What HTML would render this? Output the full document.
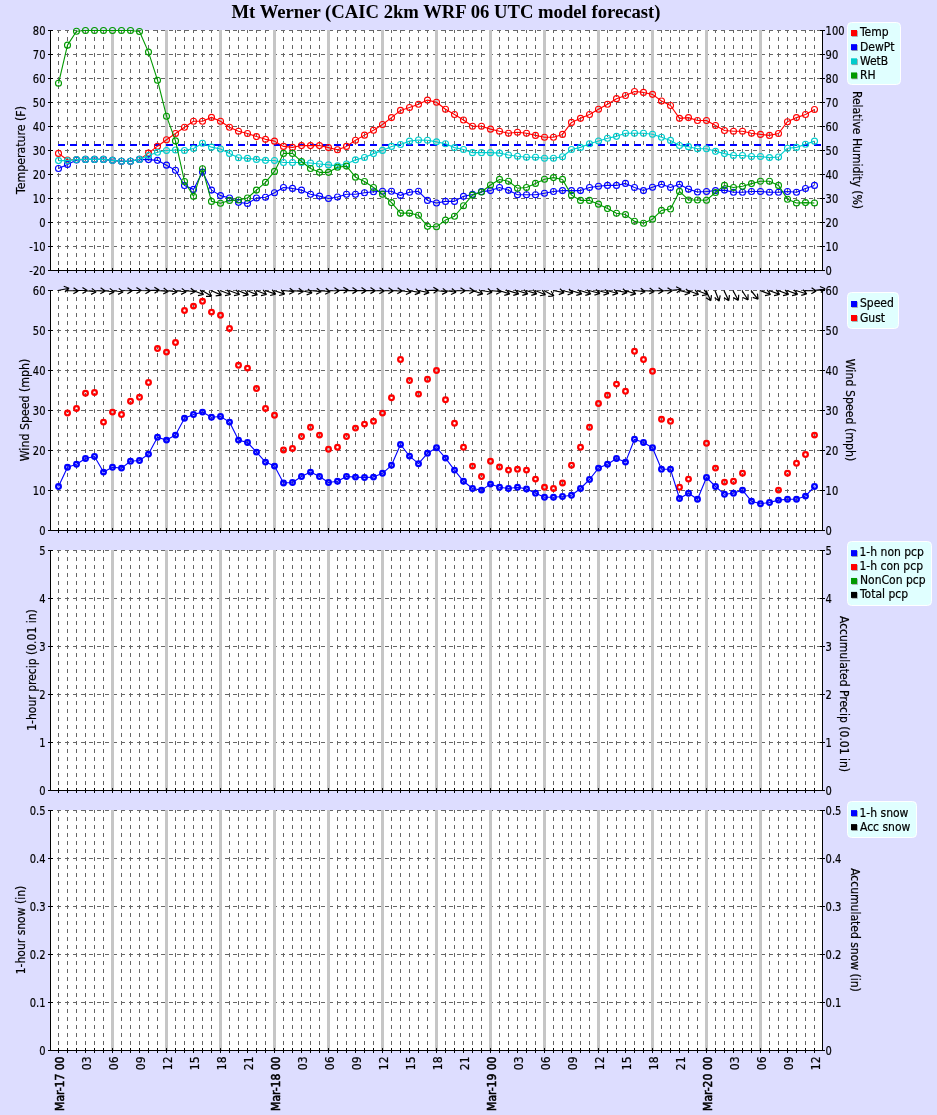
<!DOCTYPE html>
<html lang="en"><head><meta charset="utf-8"><title>Mt Werner (CAIC 2km WRF 06 UTC model forecast)</title>
<style>
html,body{margin:0;padding:0;background:#ddddff;}
body{width:937px;height:1115px;overflow:hidden;}
svg{display:block;}
text{font-family:"DejaVu Sans Condensed","DejaVu Sans","Liberation Sans",sans-serif;font-size:12px;fill:#000;stroke:#000;stroke-width:0.2px;filter:grayscale(1);}
.ttl{font-family:"Liberation Serif","DejaVu Serif",serif;font-weight:bold;font-size:18.67px;stroke:none;}
.b{stroke:#000;stroke-width:0.55px;}
.at{font-size:12.25px;}
.g{stroke:#666666;stroke-width:1;stroke-dasharray:4 4;fill:none;}
.ax{stroke:#000;stroke-width:1;fill:none;}
.bar{fill:#c6c6c6;}
.mk{fill:none;stroke-width:1.1;}
.ln{fill:none;stroke-width:1.1;stroke-linejoin:round;}
.wm{fill:none;stroke-width:2.25;}
.ar{fill:none;stroke:#000;stroke-width:1.2;stroke-linecap:butt;}
</style></head><body>
<svg width="937" height="1115" viewBox="0 0 937 1115">
<rect x="0" y="0" width="937" height="1115" fill="#ddddff"/>
<text class="ttl" x="446" y="18" text-anchor="middle">Mt Werner (CAIC 2km WRF 06 UTC model forecast)</text>
<g>
<rect x="50" y="30" width="773" height="240" fill="#fff"/>
<path class="g" d="M58.5 273 V30 M67.5 273 V30 M76.5 273 V30 M85.5 273 V30 M94.5 273 V30 M103.5 273 V30 M121.5 273 V30 M130.5 273 V30 M139.5 273 V30 M148.5 273 V30 M157.5 273 V30 M175.5 273 V30 M184.5 273 V30 M193.5 273 V30 M202.5 273 V30 M211.5 273 V30 M229.5 273 V30 M238.5 273 V30 M247.5 273 V30 M256.5 273 V30 M265.5 273 V30 M283.5 273 V30 M292.5 273 V30 M301.5 273 V30 M310.5 273 V30 M319.5 273 V30 M337.5 273 V30 M346.5 273 V30 M355.5 273 V30 M364.5 273 V30 M373.5 273 V30 M391.5 273 V30 M400.5 273 V30 M409.5 273 V30 M418.5 273 V30 M427.5 273 V30 M445.5 273 V30 M454.5 273 V30 M463.5 273 V30 M472.5 273 V30 M481.5 273 V30 M499.5 273 V30 M508.5 273 V30 M517.5 273 V30 M526.5 273 V30 M535.5 273 V30 M553.5 273 V30 M562.5 273 V30 M571.5 273 V30 M580.5 273 V30 M589.5 273 V30 M607.5 273 V30 M616.5 273 V30 M625.5 273 V30 M634.5 273 V30 M643.5 273 V30 M661.5 273 V30 M670.5 273 V30 M679.5 273 V30 M688.5 273 V30 M697.5 273 V30 M715.5 273 V30 M724.5 273 V30 M733.5 273 V30 M742.5 273 V30 M751.5 273 V30 M769.5 273 V30 M778.5 273 V30 M787.5 273 V30 M796.5 273 V30 M805.5 273 V30 M814.5 273 V30"/>
<path class="g" d="M49 30.5 H822 M49 54.5 H822 M49 78.5 H822 M49 102.5 H822 M49 126.5 H822 M49 150.5 H822 M49 174.5 H822 M49 198.5 H822 M49 222.5 H822 M49 246.5 H822"/>
<rect x="40" y="29" width="10" height="242" fill="#ddddff"/>
<rect x="50" y="271" width="780" height="4" fill="#ddddff"/>
<rect class="bar" x="111" y="30" width="3" height="240"/>
<rect class="bar" x="165" y="30" width="3" height="240"/>
<rect class="bar" x="219" y="30" width="3" height="240"/>
<rect class="bar" x="273" y="30" width="3" height="240"/>
<rect class="bar" x="327" y="30" width="3" height="240"/>
<rect class="bar" x="381" y="30" width="3" height="240"/>
<rect class="bar" x="435" y="30" width="3" height="240"/>
<rect class="bar" x="489" y="30" width="3" height="240"/>
<rect class="bar" x="543" y="30" width="3" height="240"/>
<rect class="bar" x="597" y="30" width="3" height="240"/>
<rect class="bar" x="651" y="30" width="3" height="240"/>
<rect class="bar" x="705" y="30" width="3" height="240"/>
<rect class="bar" x="759" y="30" width="3" height="240"/>
</g>
<g>
<rect x="50" y="290" width="773" height="240" fill="#fff"/>
<path class="g" d="M58.5 533 V290 M67.5 533 V290 M76.5 533 V290 M85.5 533 V290 M94.5 533 V290 M103.5 533 V290 M121.5 533 V290 M130.5 533 V290 M139.5 533 V290 M148.5 533 V290 M157.5 533 V290 M175.5 533 V290 M184.5 533 V290 M193.5 533 V290 M202.5 533 V290 M211.5 533 V290 M229.5 533 V290 M238.5 533 V290 M247.5 533 V290 M256.5 533 V290 M265.5 533 V290 M283.5 533 V290 M292.5 533 V290 M301.5 533 V290 M310.5 533 V290 M319.5 533 V290 M337.5 533 V290 M346.5 533 V290 M355.5 533 V290 M364.5 533 V290 M373.5 533 V290 M391.5 533 V290 M400.5 533 V290 M409.5 533 V290 M418.5 533 V290 M427.5 533 V290 M445.5 533 V290 M454.5 533 V290 M463.5 533 V290 M472.5 533 V290 M481.5 533 V290 M499.5 533 V290 M508.5 533 V290 M517.5 533 V290 M526.5 533 V290 M535.5 533 V290 M553.5 533 V290 M562.5 533 V290 M571.5 533 V290 M580.5 533 V290 M589.5 533 V290 M607.5 533 V290 M616.5 533 V290 M625.5 533 V290 M634.5 533 V290 M643.5 533 V290 M661.5 533 V290 M670.5 533 V290 M679.5 533 V290 M688.5 533 V290 M697.5 533 V290 M715.5 533 V290 M724.5 533 V290 M733.5 533 V290 M742.5 533 V290 M751.5 533 V290 M769.5 533 V290 M778.5 533 V290 M787.5 533 V290 M796.5 533 V290 M805.5 533 V290 M814.5 533 V290"/>
<path class="g" d="M49 290.5 H822 M49 330.5 H822 M49 370.5 H822 M49 410.5 H822 M49 450.5 H822 M49 490.5 H822"/>
<rect x="40" y="289" width="10" height="242" fill="#ddddff"/>
<rect x="50" y="531" width="780" height="4" fill="#ddddff"/>
<rect class="bar" x="111" y="290" width="3" height="240"/>
<rect class="bar" x="165" y="290" width="3" height="240"/>
<rect class="bar" x="219" y="290" width="3" height="240"/>
<rect class="bar" x="273" y="290" width="3" height="240"/>
<rect class="bar" x="327" y="290" width="3" height="240"/>
<rect class="bar" x="381" y="290" width="3" height="240"/>
<rect class="bar" x="435" y="290" width="3" height="240"/>
<rect class="bar" x="489" y="290" width="3" height="240"/>
<rect class="bar" x="543" y="290" width="3" height="240"/>
<rect class="bar" x="597" y="290" width="3" height="240"/>
<rect class="bar" x="651" y="290" width="3" height="240"/>
<rect class="bar" x="705" y="290" width="3" height="240"/>
<rect class="bar" x="759" y="290" width="3" height="240"/>
</g>
<g>
<rect x="50" y="550" width="773" height="240" fill="#fff"/>
<path class="g" d="M58.5 793 V550 M67.5 793 V550 M76.5 793 V550 M85.5 793 V550 M94.5 793 V550 M103.5 793 V550 M121.5 793 V550 M130.5 793 V550 M139.5 793 V550 M148.5 793 V550 M157.5 793 V550 M175.5 793 V550 M184.5 793 V550 M193.5 793 V550 M202.5 793 V550 M211.5 793 V550 M229.5 793 V550 M238.5 793 V550 M247.5 793 V550 M256.5 793 V550 M265.5 793 V550 M283.5 793 V550 M292.5 793 V550 M301.5 793 V550 M310.5 793 V550 M319.5 793 V550 M337.5 793 V550 M346.5 793 V550 M355.5 793 V550 M364.5 793 V550 M373.5 793 V550 M391.5 793 V550 M400.5 793 V550 M409.5 793 V550 M418.5 793 V550 M427.5 793 V550 M445.5 793 V550 M454.5 793 V550 M463.5 793 V550 M472.5 793 V550 M481.5 793 V550 M499.5 793 V550 M508.5 793 V550 M517.5 793 V550 M526.5 793 V550 M535.5 793 V550 M553.5 793 V550 M562.5 793 V550 M571.5 793 V550 M580.5 793 V550 M589.5 793 V550 M607.5 793 V550 M616.5 793 V550 M625.5 793 V550 M634.5 793 V550 M643.5 793 V550 M661.5 793 V550 M670.5 793 V550 M679.5 793 V550 M688.5 793 V550 M697.5 793 V550 M715.5 793 V550 M724.5 793 V550 M733.5 793 V550 M742.5 793 V550 M751.5 793 V550 M769.5 793 V550 M778.5 793 V550 M787.5 793 V550 M796.5 793 V550 M805.5 793 V550 M814.5 793 V550"/>
<path class="g" d="M49 550.5 H822 M49 598.5 H822 M49 646.5 H822 M49 694.5 H822 M49 742.5 H822"/>
<rect x="40" y="549" width="10" height="242" fill="#ddddff"/>
<rect x="50" y="791" width="780" height="4" fill="#ddddff"/>
<rect class="bar" x="111" y="550" width="3" height="240"/>
<rect class="bar" x="165" y="550" width="3" height="240"/>
<rect class="bar" x="219" y="550" width="3" height="240"/>
<rect class="bar" x="273" y="550" width="3" height="240"/>
<rect class="bar" x="327" y="550" width="3" height="240"/>
<rect class="bar" x="381" y="550" width="3" height="240"/>
<rect class="bar" x="435" y="550" width="3" height="240"/>
<rect class="bar" x="489" y="550" width="3" height="240"/>
<rect class="bar" x="543" y="550" width="3" height="240"/>
<rect class="bar" x="597" y="550" width="3" height="240"/>
<rect class="bar" x="651" y="550" width="3" height="240"/>
<rect class="bar" x="705" y="550" width="3" height="240"/>
<rect class="bar" x="759" y="550" width="3" height="240"/>
</g>
<g>
<rect x="50" y="810" width="773" height="240" fill="#fff"/>
<path class="g" d="M58.5 1053 V810 M67.5 1053 V810 M76.5 1053 V810 M85.5 1053 V810 M94.5 1053 V810 M103.5 1053 V810 M121.5 1053 V810 M130.5 1053 V810 M139.5 1053 V810 M148.5 1053 V810 M157.5 1053 V810 M175.5 1053 V810 M184.5 1053 V810 M193.5 1053 V810 M202.5 1053 V810 M211.5 1053 V810 M229.5 1053 V810 M238.5 1053 V810 M247.5 1053 V810 M256.5 1053 V810 M265.5 1053 V810 M283.5 1053 V810 M292.5 1053 V810 M301.5 1053 V810 M310.5 1053 V810 M319.5 1053 V810 M337.5 1053 V810 M346.5 1053 V810 M355.5 1053 V810 M364.5 1053 V810 M373.5 1053 V810 M391.5 1053 V810 M400.5 1053 V810 M409.5 1053 V810 M418.5 1053 V810 M427.5 1053 V810 M445.5 1053 V810 M454.5 1053 V810 M463.5 1053 V810 M472.5 1053 V810 M481.5 1053 V810 M499.5 1053 V810 M508.5 1053 V810 M517.5 1053 V810 M526.5 1053 V810 M535.5 1053 V810 M553.5 1053 V810 M562.5 1053 V810 M571.5 1053 V810 M580.5 1053 V810 M589.5 1053 V810 M607.5 1053 V810 M616.5 1053 V810 M625.5 1053 V810 M634.5 1053 V810 M643.5 1053 V810 M661.5 1053 V810 M670.5 1053 V810 M679.5 1053 V810 M688.5 1053 V810 M697.5 1053 V810 M715.5 1053 V810 M724.5 1053 V810 M733.5 1053 V810 M742.5 1053 V810 M751.5 1053 V810 M769.5 1053 V810 M778.5 1053 V810 M787.5 1053 V810 M796.5 1053 V810 M805.5 1053 V810 M814.5 1053 V810"/>
<path class="g" d="M49 810.5 H822 M49 858.5 H822 M49 906.5 H822 M49 954.5 H822 M49 1002.5 H822"/>
<rect x="40" y="809" width="10" height="242" fill="#ddddff"/>
<rect x="50" y="1051" width="780" height="4" fill="#ddddff"/>
<rect class="bar" x="111" y="810" width="3" height="240"/>
<rect class="bar" x="165" y="810" width="3" height="240"/>
<rect class="bar" x="219" y="810" width="3" height="240"/>
<rect class="bar" x="273" y="810" width="3" height="240"/>
<rect class="bar" x="327" y="810" width="3" height="240"/>
<rect class="bar" x="381" y="810" width="3" height="240"/>
<rect class="bar" x="435" y="810" width="3" height="240"/>
<rect class="bar" x="489" y="810" width="3" height="240"/>
<rect class="bar" x="543" y="810" width="3" height="240"/>
<rect class="bar" x="597" y="810" width="3" height="240"/>
<rect class="bar" x="651" y="810" width="3" height="240"/>
<rect class="bar" x="705" y="810" width="3" height="240"/>
<rect class="bar" x="759" y="810" width="3" height="240"/>
</g>
<path d="M58 145 H822" stroke="#0000ff" stroke-width="2" stroke-dasharray="7 5" fill="none"/>
<g stroke="#ff0000">
<polyline class="ln" points="58.5,153.38 67.5,159.98 76.5,159.62 85.5,159.38 94.5,159.38 103.5,159.38 112.5,160.34 121.5,161.3 130.5,161.3 139.5,159.38 148.5,153.14 157.5,146.18 166.5,139.7 175.5,133.46 184.5,127.22 193.5,121.22 202.5,121.22 211.5,117.38 220.5,121.22 229.5,127.22 238.5,131.3 247.5,133.46 256.5,136.58 265.5,139.34 274.5,141.14 283.5,146.42 292.5,147.38 301.5,145.58 310.5,145.58 319.5,145.58 328.5,147.62 337.5,149.78 346.5,146.42 355.5,140.18 364.5,135.14 373.5,130.22 382.5,124.46 391.5,117.62 400.5,110.42 409.5,107.54 418.5,104.18 427.5,100.1 436.5,102.26 445.5,109.22 454.5,114.5 463.5,120.02 472.5,126.26 481.5,126.26 490.5,129.14 499.5,131.3 508.5,133.22 517.5,132.26 526.5,133.22 535.5,135.38 544.5,137.3 553.5,137.3 562.5,134.42 571.5,122.42 580.5,118.34 589.5,114.5 598.5,109.22 607.5,104.18 616.5,98.66 625.5,95.54 634.5,91.46 643.5,92.42 652.5,94.34 661.5,101.06 670.5,105.5 679.5,118.34 688.5,117.62 697.5,120.5 706.5,120.5 715.5,125.54 724.5,130.46 733.5,131.3 742.5,131.3 751.5,133.22 760.5,134.42 769.5,135.38 778.5,133.46 787.5,121.7 796.5,117.62 805.5,114.5 814.5,109.46"/>
<circle class="mk" cx="58.5" cy="153.38" r="3"/>
<circle class="mk" cx="67.5" cy="159.98" r="3"/>
<circle class="mk" cx="76.5" cy="159.62" r="3"/>
<circle class="mk" cx="85.5" cy="159.38" r="3"/>
<circle class="mk" cx="94.5" cy="159.38" r="3"/>
<circle class="mk" cx="103.5" cy="159.38" r="3"/>
<circle class="mk" cx="112.5" cy="160.34" r="3"/>
<circle class="mk" cx="121.5" cy="161.3" r="3"/>
<circle class="mk" cx="130.5" cy="161.3" r="3"/>
<circle class="mk" cx="139.5" cy="159.38" r="3"/>
<circle class="mk" cx="148.5" cy="153.14" r="3"/>
<circle class="mk" cx="157.5" cy="146.18" r="3"/>
<circle class="mk" cx="166.5" cy="139.7" r="3"/>
<circle class="mk" cx="175.5" cy="133.46" r="3"/>
<circle class="mk" cx="184.5" cy="127.22" r="3"/>
<circle class="mk" cx="193.5" cy="121.22" r="3"/>
<circle class="mk" cx="202.5" cy="121.22" r="3"/>
<circle class="mk" cx="211.5" cy="117.38" r="3"/>
<circle class="mk" cx="220.5" cy="121.22" r="3"/>
<circle class="mk" cx="229.5" cy="127.22" r="3"/>
<circle class="mk" cx="238.5" cy="131.3" r="3"/>
<circle class="mk" cx="247.5" cy="133.46" r="3"/>
<circle class="mk" cx="256.5" cy="136.58" r="3"/>
<circle class="mk" cx="265.5" cy="139.34" r="3"/>
<circle class="mk" cx="274.5" cy="141.14" r="3"/>
<circle class="mk" cx="283.5" cy="146.42" r="3"/>
<circle class="mk" cx="292.5" cy="147.38" r="3"/>
<circle class="mk" cx="301.5" cy="145.58" r="3"/>
<circle class="mk" cx="310.5" cy="145.58" r="3"/>
<circle class="mk" cx="319.5" cy="145.58" r="3"/>
<circle class="mk" cx="328.5" cy="147.62" r="3"/>
<circle class="mk" cx="337.5" cy="149.78" r="3"/>
<circle class="mk" cx="346.5" cy="146.42" r="3"/>
<circle class="mk" cx="355.5" cy="140.18" r="3"/>
<circle class="mk" cx="364.5" cy="135.14" r="3"/>
<circle class="mk" cx="373.5" cy="130.22" r="3"/>
<circle class="mk" cx="382.5" cy="124.46" r="3"/>
<circle class="mk" cx="391.5" cy="117.62" r="3"/>
<circle class="mk" cx="400.5" cy="110.42" r="3"/>
<circle class="mk" cx="409.5" cy="107.54" r="3"/>
<circle class="mk" cx="418.5" cy="104.18" r="3"/>
<circle class="mk" cx="427.5" cy="100.1" r="3"/>
<circle class="mk" cx="436.5" cy="102.26" r="3"/>
<circle class="mk" cx="445.5" cy="109.22" r="3"/>
<circle class="mk" cx="454.5" cy="114.5" r="3"/>
<circle class="mk" cx="463.5" cy="120.02" r="3"/>
<circle class="mk" cx="472.5" cy="126.26" r="3"/>
<circle class="mk" cx="481.5" cy="126.26" r="3"/>
<circle class="mk" cx="490.5" cy="129.14" r="3"/>
<circle class="mk" cx="499.5" cy="131.3" r="3"/>
<circle class="mk" cx="508.5" cy="133.22" r="3"/>
<circle class="mk" cx="517.5" cy="132.26" r="3"/>
<circle class="mk" cx="526.5" cy="133.22" r="3"/>
<circle class="mk" cx="535.5" cy="135.38" r="3"/>
<circle class="mk" cx="544.5" cy="137.3" r="3"/>
<circle class="mk" cx="553.5" cy="137.3" r="3"/>
<circle class="mk" cx="562.5" cy="134.42" r="3"/>
<circle class="mk" cx="571.5" cy="122.42" r="3"/>
<circle class="mk" cx="580.5" cy="118.34" r="3"/>
<circle class="mk" cx="589.5" cy="114.5" r="3"/>
<circle class="mk" cx="598.5" cy="109.22" r="3"/>
<circle class="mk" cx="607.5" cy="104.18" r="3"/>
<circle class="mk" cx="616.5" cy="98.66" r="3"/>
<circle class="mk" cx="625.5" cy="95.54" r="3"/>
<circle class="mk" cx="634.5" cy="91.46" r="3"/>
<circle class="mk" cx="643.5" cy="92.42" r="3"/>
<circle class="mk" cx="652.5" cy="94.34" r="3"/>
<circle class="mk" cx="661.5" cy="101.06" r="3"/>
<circle class="mk" cx="670.5" cy="105.5" r="3"/>
<circle class="mk" cx="679.5" cy="118.34" r="3"/>
<circle class="mk" cx="688.5" cy="117.62" r="3"/>
<circle class="mk" cx="697.5" cy="120.5" r="3"/>
<circle class="mk" cx="706.5" cy="120.5" r="3"/>
<circle class="mk" cx="715.5" cy="125.54" r="3"/>
<circle class="mk" cx="724.5" cy="130.46" r="3"/>
<circle class="mk" cx="733.5" cy="131.3" r="3"/>
<circle class="mk" cx="742.5" cy="131.3" r="3"/>
<circle class="mk" cx="751.5" cy="133.22" r="3"/>
<circle class="mk" cx="760.5" cy="134.42" r="3"/>
<circle class="mk" cx="769.5" cy="135.38" r="3"/>
<circle class="mk" cx="778.5" cy="133.46" r="3"/>
<circle class="mk" cx="787.5" cy="121.7" r="3"/>
<circle class="mk" cx="796.5" cy="117.62" r="3"/>
<circle class="mk" cx="805.5" cy="114.5" r="3"/>
<circle class="mk" cx="814.5" cy="109.46" r="3"/>
</g>
<g stroke="#0000ff">
<polyline class="ln" points="58.5,168.5 67.5,164.42 76.5,159.98 85.5,159.38 94.5,159.38 103.5,159.38 112.5,160.34 121.5,161.3 130.5,161.3 139.5,159.38 148.5,159.62 157.5,160.34 166.5,165.14 175.5,170.18 184.5,185.54 193.5,189.38 202.5,172.1 211.5,190.1 220.5,195.62 229.5,198.02 238.5,202.34 247.5,203.54 256.5,198.02 265.5,197.3 274.5,192.74 283.5,187.46 292.5,188.42 301.5,190.1 310.5,194.18 319.5,196.1 328.5,198.5 337.5,197.06 346.5,194.18 355.5,194.18 364.5,192.74 373.5,191.78 382.5,191.18 391.5,191.3 400.5,195.38 409.5,192.26 418.5,191.3 427.5,200.42 436.5,203.06 445.5,201.38 454.5,201.38 463.5,196.34 472.5,194.42 481.5,191.66 490.5,190.58 499.5,187.46 508.5,190.34 517.5,194.78 526.5,194.78 535.5,194.78 544.5,193.22 553.5,191.54 562.5,190.58 571.5,190.58 580.5,190.58 589.5,187.46 598.5,186.26 607.5,185.42 616.5,185.42 625.5,183.38 634.5,187.46 643.5,190.58 652.5,187.22 661.5,184.34 670.5,187.46 679.5,184.34 688.5,189.14 697.5,192.02 706.5,191.54 715.5,190.58 724.5,190.1 733.5,192.26 742.5,192.26 751.5,191.54 760.5,191.54 769.5,192.26 778.5,192.26 787.5,191.54 796.5,192.26 805.5,188.54 814.5,185.42"/>
<circle class="mk" cx="58.5" cy="168.5" r="3"/>
<circle class="mk" cx="67.5" cy="164.42" r="3"/>
<circle class="mk" cx="76.5" cy="159.98" r="3"/>
<circle class="mk" cx="85.5" cy="159.38" r="3"/>
<circle class="mk" cx="94.5" cy="159.38" r="3"/>
<circle class="mk" cx="103.5" cy="159.38" r="3"/>
<circle class="mk" cx="112.5" cy="160.34" r="3"/>
<circle class="mk" cx="121.5" cy="161.3" r="3"/>
<circle class="mk" cx="130.5" cy="161.3" r="3"/>
<circle class="mk" cx="139.5" cy="159.38" r="3"/>
<circle class="mk" cx="148.5" cy="159.62" r="3"/>
<circle class="mk" cx="157.5" cy="160.34" r="3"/>
<circle class="mk" cx="166.5" cy="165.14" r="3"/>
<circle class="mk" cx="175.5" cy="170.18" r="3"/>
<circle class="mk" cx="184.5" cy="185.54" r="3"/>
<circle class="mk" cx="193.5" cy="189.38" r="3"/>
<circle class="mk" cx="202.5" cy="172.1" r="3"/>
<circle class="mk" cx="211.5" cy="190.1" r="3"/>
<circle class="mk" cx="220.5" cy="195.62" r="3"/>
<circle class="mk" cx="229.5" cy="198.02" r="3"/>
<circle class="mk" cx="238.5" cy="202.34" r="3"/>
<circle class="mk" cx="247.5" cy="203.54" r="3"/>
<circle class="mk" cx="256.5" cy="198.02" r="3"/>
<circle class="mk" cx="265.5" cy="197.3" r="3"/>
<circle class="mk" cx="274.5" cy="192.74" r="3"/>
<circle class="mk" cx="283.5" cy="187.46" r="3"/>
<circle class="mk" cx="292.5" cy="188.42" r="3"/>
<circle class="mk" cx="301.5" cy="190.1" r="3"/>
<circle class="mk" cx="310.5" cy="194.18" r="3"/>
<circle class="mk" cx="319.5" cy="196.1" r="3"/>
<circle class="mk" cx="328.5" cy="198.5" r="3"/>
<circle class="mk" cx="337.5" cy="197.06" r="3"/>
<circle class="mk" cx="346.5" cy="194.18" r="3"/>
<circle class="mk" cx="355.5" cy="194.18" r="3"/>
<circle class="mk" cx="364.5" cy="192.74" r="3"/>
<circle class="mk" cx="373.5" cy="191.78" r="3"/>
<circle class="mk" cx="382.5" cy="191.18" r="3"/>
<circle class="mk" cx="391.5" cy="191.3" r="3"/>
<circle class="mk" cx="400.5" cy="195.38" r="3"/>
<circle class="mk" cx="409.5" cy="192.26" r="3"/>
<circle class="mk" cx="418.5" cy="191.3" r="3"/>
<circle class="mk" cx="427.5" cy="200.42" r="3"/>
<circle class="mk" cx="436.5" cy="203.06" r="3"/>
<circle class="mk" cx="445.5" cy="201.38" r="3"/>
<circle class="mk" cx="454.5" cy="201.38" r="3"/>
<circle class="mk" cx="463.5" cy="196.34" r="3"/>
<circle class="mk" cx="472.5" cy="194.42" r="3"/>
<circle class="mk" cx="481.5" cy="191.66" r="3"/>
<circle class="mk" cx="490.5" cy="190.58" r="3"/>
<circle class="mk" cx="499.5" cy="187.46" r="3"/>
<circle class="mk" cx="508.5" cy="190.34" r="3"/>
<circle class="mk" cx="517.5" cy="194.78" r="3"/>
<circle class="mk" cx="526.5" cy="194.78" r="3"/>
<circle class="mk" cx="535.5" cy="194.78" r="3"/>
<circle class="mk" cx="544.5" cy="193.22" r="3"/>
<circle class="mk" cx="553.5" cy="191.54" r="3"/>
<circle class="mk" cx="562.5" cy="190.58" r="3"/>
<circle class="mk" cx="571.5" cy="190.58" r="3"/>
<circle class="mk" cx="580.5" cy="190.58" r="3"/>
<circle class="mk" cx="589.5" cy="187.46" r="3"/>
<circle class="mk" cx="598.5" cy="186.26" r="3"/>
<circle class="mk" cx="607.5" cy="185.42" r="3"/>
<circle class="mk" cx="616.5" cy="185.42" r="3"/>
<circle class="mk" cx="625.5" cy="183.38" r="3"/>
<circle class="mk" cx="634.5" cy="187.46" r="3"/>
<circle class="mk" cx="643.5" cy="190.58" r="3"/>
<circle class="mk" cx="652.5" cy="187.22" r="3"/>
<circle class="mk" cx="661.5" cy="184.34" r="3"/>
<circle class="mk" cx="670.5" cy="187.46" r="3"/>
<circle class="mk" cx="679.5" cy="184.34" r="3"/>
<circle class="mk" cx="688.5" cy="189.14" r="3"/>
<circle class="mk" cx="697.5" cy="192.02" r="3"/>
<circle class="mk" cx="706.5" cy="191.54" r="3"/>
<circle class="mk" cx="715.5" cy="190.58" r="3"/>
<circle class="mk" cx="724.5" cy="190.1" r="3"/>
<circle class="mk" cx="733.5" cy="192.26" r="3"/>
<circle class="mk" cx="742.5" cy="192.26" r="3"/>
<circle class="mk" cx="751.5" cy="191.54" r="3"/>
<circle class="mk" cx="760.5" cy="191.54" r="3"/>
<circle class="mk" cx="769.5" cy="192.26" r="3"/>
<circle class="mk" cx="778.5" cy="192.26" r="3"/>
<circle class="mk" cx="787.5" cy="191.54" r="3"/>
<circle class="mk" cx="796.5" cy="192.26" r="3"/>
<circle class="mk" cx="805.5" cy="188.54" r="3"/>
<circle class="mk" cx="814.5" cy="185.42" r="3"/>
</g>
<g stroke="#00cccc">
<polyline class="ln" points="58.5,160.58 67.5,160.58 76.5,159.62 85.5,159.38 94.5,159.38 103.5,159.38 112.5,160.34 121.5,161.3 130.5,161.3 139.5,159.38 148.5,155.54 157.5,152.18 166.5,150.5 175.5,150.02 184.5,150.5 193.5,148.46 202.5,143.3 211.5,147.14 220.5,149.06 229.5,153.38 238.5,157.7 247.5,158.42 256.5,159.38 265.5,160.34 274.5,160.46 283.5,162.5 292.5,162.5 301.5,162.5 310.5,162.98 319.5,163.94 328.5,164.9 337.5,165.86 346.5,163.94 355.5,159.86 364.5,157.46 373.5,153.62 382.5,150.38 391.5,146.42 400.5,144.5 409.5,141.14 418.5,139.94 427.5,140.18 436.5,141.86 445.5,143.78 454.5,147.62 463.5,149.54 472.5,152.66 481.5,152.66 490.5,152.66 499.5,153.14 508.5,155.06 517.5,156.26 526.5,157.22 535.5,157.22 544.5,158.18 553.5,158.18 562.5,156.74 571.5,149.54 580.5,147.38 589.5,143.78 598.5,141.02 607.5,138.26 616.5,136.34 625.5,133.22 634.5,133.22 643.5,133.22 652.5,134.18 661.5,137.3 670.5,140.42 679.5,145.46 688.5,146.66 697.5,148.82 706.5,148.7 715.5,151.34 724.5,153.62 733.5,155.54 742.5,155.54 751.5,156.5 760.5,156.5 769.5,157.58 778.5,156.98 787.5,148.22 796.5,147.38 805.5,144.26 814.5,141.14"/>
<circle class="mk" cx="58.5" cy="160.58" r="3"/>
<circle class="mk" cx="67.5" cy="160.58" r="3"/>
<circle class="mk" cx="76.5" cy="159.62" r="3"/>
<circle class="mk" cx="85.5" cy="159.38" r="3"/>
<circle class="mk" cx="94.5" cy="159.38" r="3"/>
<circle class="mk" cx="103.5" cy="159.38" r="3"/>
<circle class="mk" cx="112.5" cy="160.34" r="3"/>
<circle class="mk" cx="121.5" cy="161.3" r="3"/>
<circle class="mk" cx="130.5" cy="161.3" r="3"/>
<circle class="mk" cx="139.5" cy="159.38" r="3"/>
<circle class="mk" cx="148.5" cy="155.54" r="3"/>
<circle class="mk" cx="157.5" cy="152.18" r="3"/>
<circle class="mk" cx="166.5" cy="150.5" r="3"/>
<circle class="mk" cx="175.5" cy="150.02" r="3"/>
<circle class="mk" cx="184.5" cy="150.5" r="3"/>
<circle class="mk" cx="193.5" cy="148.46" r="3"/>
<circle class="mk" cx="202.5" cy="143.3" r="3"/>
<circle class="mk" cx="211.5" cy="147.14" r="3"/>
<circle class="mk" cx="220.5" cy="149.06" r="3"/>
<circle class="mk" cx="229.5" cy="153.38" r="3"/>
<circle class="mk" cx="238.5" cy="157.7" r="3"/>
<circle class="mk" cx="247.5" cy="158.42" r="3"/>
<circle class="mk" cx="256.5" cy="159.38" r="3"/>
<circle class="mk" cx="265.5" cy="160.34" r="3"/>
<circle class="mk" cx="274.5" cy="160.46" r="3"/>
<circle class="mk" cx="283.5" cy="162.5" r="3"/>
<circle class="mk" cx="292.5" cy="162.5" r="3"/>
<circle class="mk" cx="301.5" cy="162.5" r="3"/>
<circle class="mk" cx="310.5" cy="162.98" r="3"/>
<circle class="mk" cx="319.5" cy="163.94" r="3"/>
<circle class="mk" cx="328.5" cy="164.9" r="3"/>
<circle class="mk" cx="337.5" cy="165.86" r="3"/>
<circle class="mk" cx="346.5" cy="163.94" r="3"/>
<circle class="mk" cx="355.5" cy="159.86" r="3"/>
<circle class="mk" cx="364.5" cy="157.46" r="3"/>
<circle class="mk" cx="373.5" cy="153.62" r="3"/>
<circle class="mk" cx="382.5" cy="150.38" r="3"/>
<circle class="mk" cx="391.5" cy="146.42" r="3"/>
<circle class="mk" cx="400.5" cy="144.5" r="3"/>
<circle class="mk" cx="409.5" cy="141.14" r="3"/>
<circle class="mk" cx="418.5" cy="139.94" r="3"/>
<circle class="mk" cx="427.5" cy="140.18" r="3"/>
<circle class="mk" cx="436.5" cy="141.86" r="3"/>
<circle class="mk" cx="445.5" cy="143.78" r="3"/>
<circle class="mk" cx="454.5" cy="147.62" r="3"/>
<circle class="mk" cx="463.5" cy="149.54" r="3"/>
<circle class="mk" cx="472.5" cy="152.66" r="3"/>
<circle class="mk" cx="481.5" cy="152.66" r="3"/>
<circle class="mk" cx="490.5" cy="152.66" r="3"/>
<circle class="mk" cx="499.5" cy="153.14" r="3"/>
<circle class="mk" cx="508.5" cy="155.06" r="3"/>
<circle class="mk" cx="517.5" cy="156.26" r="3"/>
<circle class="mk" cx="526.5" cy="157.22" r="3"/>
<circle class="mk" cx="535.5" cy="157.22" r="3"/>
<circle class="mk" cx="544.5" cy="158.18" r="3"/>
<circle class="mk" cx="553.5" cy="158.18" r="3"/>
<circle class="mk" cx="562.5" cy="156.74" r="3"/>
<circle class="mk" cx="571.5" cy="149.54" r="3"/>
<circle class="mk" cx="580.5" cy="147.38" r="3"/>
<circle class="mk" cx="589.5" cy="143.78" r="3"/>
<circle class="mk" cx="598.5" cy="141.02" r="3"/>
<circle class="mk" cx="607.5" cy="138.26" r="3"/>
<circle class="mk" cx="616.5" cy="136.34" r="3"/>
<circle class="mk" cx="625.5" cy="133.22" r="3"/>
<circle class="mk" cx="634.5" cy="133.22" r="3"/>
<circle class="mk" cx="643.5" cy="133.22" r="3"/>
<circle class="mk" cx="652.5" cy="134.18" r="3"/>
<circle class="mk" cx="661.5" cy="137.3" r="3"/>
<circle class="mk" cx="670.5" cy="140.42" r="3"/>
<circle class="mk" cx="679.5" cy="145.46" r="3"/>
<circle class="mk" cx="688.5" cy="146.66" r="3"/>
<circle class="mk" cx="697.5" cy="148.82" r="3"/>
<circle class="mk" cx="706.5" cy="148.7" r="3"/>
<circle class="mk" cx="715.5" cy="151.34" r="3"/>
<circle class="mk" cx="724.5" cy="153.62" r="3"/>
<circle class="mk" cx="733.5" cy="155.54" r="3"/>
<circle class="mk" cx="742.5" cy="155.54" r="3"/>
<circle class="mk" cx="751.5" cy="156.5" r="3"/>
<circle class="mk" cx="760.5" cy="156.5" r="3"/>
<circle class="mk" cx="769.5" cy="157.58" r="3"/>
<circle class="mk" cx="778.5" cy="156.98" r="3"/>
<circle class="mk" cx="787.5" cy="148.22" r="3"/>
<circle class="mk" cx="796.5" cy="147.38" r="3"/>
<circle class="mk" cx="805.5" cy="144.26" r="3"/>
<circle class="mk" cx="814.5" cy="141.14" r="3"/>
</g>
<g stroke="#009900">
<polyline class="ln" points="58.5,83.3 67.5,45.14 76.5,31.22 85.5,30.5 94.5,30.5 103.5,30.5 112.5,30.5 121.5,30.5 130.5,30.5 139.5,31.46 148.5,52.1 157.5,80.18 166.5,116.18 175.5,140.9 184.5,181.46 193.5,196.34 202.5,168.74 211.5,201.38 220.5,203.3 229.5,200.42 238.5,199.94 247.5,198.02 256.5,190.1 265.5,182.42 274.5,171.38 283.5,153.38 292.5,153.38 301.5,161.54 310.5,168.5 319.5,172.34 328.5,172.34 337.5,167.3 346.5,166.1 355.5,177.14 364.5,181.46 373.5,187.46 382.5,194.3 391.5,202.58 400.5,213.14 409.5,213.14 418.5,215.3 427.5,226.34 436.5,226.82 445.5,220.1 454.5,216.26 463.5,205.7 472.5,195.14 481.5,192.02 490.5,185.06 499.5,179.42 508.5,181.22 517.5,188.18 526.5,187.46 535.5,183.38 544.5,179.18 553.5,177.62 562.5,179.42 571.5,195.14 580.5,200.42 589.5,200.42 598.5,204.14 607.5,208.58 616.5,213.26 625.5,214.58 634.5,221.3 643.5,223.22 652.5,219.14 661.5,210.38 670.5,209.06 679.5,191.42 688.5,199.94 697.5,199.94 706.5,200.18 715.5,192.5 724.5,185.42 733.5,187.46 742.5,186.26 751.5,183.62 760.5,181.22 769.5,181.22 778.5,185.42 787.5,199.22 796.5,203.06 805.5,202.58 814.5,203.06"/>
<circle class="mk" cx="58.5" cy="83.3" r="3"/>
<circle class="mk" cx="67.5" cy="45.14" r="3"/>
<circle class="mk" cx="76.5" cy="31.22" r="3"/>
<circle class="mk" cx="85.5" cy="30.5" r="3"/>
<circle class="mk" cx="94.5" cy="30.5" r="3"/>
<circle class="mk" cx="103.5" cy="30.5" r="3"/>
<circle class="mk" cx="112.5" cy="30.5" r="3"/>
<circle class="mk" cx="121.5" cy="30.5" r="3"/>
<circle class="mk" cx="130.5" cy="30.5" r="3"/>
<circle class="mk" cx="139.5" cy="31.46" r="3"/>
<circle class="mk" cx="148.5" cy="52.1" r="3"/>
<circle class="mk" cx="157.5" cy="80.18" r="3"/>
<circle class="mk" cx="166.5" cy="116.18" r="3"/>
<circle class="mk" cx="175.5" cy="140.9" r="3"/>
<circle class="mk" cx="184.5" cy="181.46" r="3"/>
<circle class="mk" cx="193.5" cy="196.34" r="3"/>
<circle class="mk" cx="202.5" cy="168.74" r="3"/>
<circle class="mk" cx="211.5" cy="201.38" r="3"/>
<circle class="mk" cx="220.5" cy="203.3" r="3"/>
<circle class="mk" cx="229.5" cy="200.42" r="3"/>
<circle class="mk" cx="238.5" cy="199.94" r="3"/>
<circle class="mk" cx="247.5" cy="198.02" r="3"/>
<circle class="mk" cx="256.5" cy="190.1" r="3"/>
<circle class="mk" cx="265.5" cy="182.42" r="3"/>
<circle class="mk" cx="274.5" cy="171.38" r="3"/>
<circle class="mk" cx="283.5" cy="153.38" r="3"/>
<circle class="mk" cx="292.5" cy="153.38" r="3"/>
<circle class="mk" cx="301.5" cy="161.54" r="3"/>
<circle class="mk" cx="310.5" cy="168.5" r="3"/>
<circle class="mk" cx="319.5" cy="172.34" r="3"/>
<circle class="mk" cx="328.5" cy="172.34" r="3"/>
<circle class="mk" cx="337.5" cy="167.3" r="3"/>
<circle class="mk" cx="346.5" cy="166.1" r="3"/>
<circle class="mk" cx="355.5" cy="177.14" r="3"/>
<circle class="mk" cx="364.5" cy="181.46" r="3"/>
<circle class="mk" cx="373.5" cy="187.46" r="3"/>
<circle class="mk" cx="382.5" cy="194.3" r="3"/>
<circle class="mk" cx="391.5" cy="202.58" r="3"/>
<circle class="mk" cx="400.5" cy="213.14" r="3"/>
<circle class="mk" cx="409.5" cy="213.14" r="3"/>
<circle class="mk" cx="418.5" cy="215.3" r="3"/>
<circle class="mk" cx="427.5" cy="226.34" r="3"/>
<circle class="mk" cx="436.5" cy="226.82" r="3"/>
<circle class="mk" cx="445.5" cy="220.1" r="3"/>
<circle class="mk" cx="454.5" cy="216.26" r="3"/>
<circle class="mk" cx="463.5" cy="205.7" r="3"/>
<circle class="mk" cx="472.5" cy="195.14" r="3"/>
<circle class="mk" cx="481.5" cy="192.02" r="3"/>
<circle class="mk" cx="490.5" cy="185.06" r="3"/>
<circle class="mk" cx="499.5" cy="179.42" r="3"/>
<circle class="mk" cx="508.5" cy="181.22" r="3"/>
<circle class="mk" cx="517.5" cy="188.18" r="3"/>
<circle class="mk" cx="526.5" cy="187.46" r="3"/>
<circle class="mk" cx="535.5" cy="183.38" r="3"/>
<circle class="mk" cx="544.5" cy="179.18" r="3"/>
<circle class="mk" cx="553.5" cy="177.62" r="3"/>
<circle class="mk" cx="562.5" cy="179.42" r="3"/>
<circle class="mk" cx="571.5" cy="195.14" r="3"/>
<circle class="mk" cx="580.5" cy="200.42" r="3"/>
<circle class="mk" cx="589.5" cy="200.42" r="3"/>
<circle class="mk" cx="598.5" cy="204.14" r="3"/>
<circle class="mk" cx="607.5" cy="208.58" r="3"/>
<circle class="mk" cx="616.5" cy="213.26" r="3"/>
<circle class="mk" cx="625.5" cy="214.58" r="3"/>
<circle class="mk" cx="634.5" cy="221.3" r="3"/>
<circle class="mk" cx="643.5" cy="223.22" r="3"/>
<circle class="mk" cx="652.5" cy="219.14" r="3"/>
<circle class="mk" cx="661.5" cy="210.38" r="3"/>
<circle class="mk" cx="670.5" cy="209.06" r="3"/>
<circle class="mk" cx="679.5" cy="191.42" r="3"/>
<circle class="mk" cx="688.5" cy="199.94" r="3"/>
<circle class="mk" cx="697.5" cy="199.94" r="3"/>
<circle class="mk" cx="706.5" cy="200.18" r="3"/>
<circle class="mk" cx="715.5" cy="192.5" r="3"/>
<circle class="mk" cx="724.5" cy="185.42" r="3"/>
<circle class="mk" cx="733.5" cy="187.46" r="3"/>
<circle class="mk" cx="742.5" cy="186.26" r="3"/>
<circle class="mk" cx="751.5" cy="183.62" r="3"/>
<circle class="mk" cx="760.5" cy="181.22" r="3"/>
<circle class="mk" cx="769.5" cy="181.22" r="3"/>
<circle class="mk" cx="778.5" cy="185.42" r="3"/>
<circle class="mk" cx="787.5" cy="199.22" r="3"/>
<circle class="mk" cx="796.5" cy="203.06" r="3"/>
<circle class="mk" cx="805.5" cy="202.58" r="3"/>
<circle class="mk" cx="814.5" cy="203.06" r="3"/>
</g>
<g stroke="#ff0000">
<circle class="wm" cx="67.5" cy="412.9" r="2.35"/>
<circle class="wm" cx="76.5" cy="408.5" r="2.35"/>
<circle class="wm" cx="85.5" cy="393.3" r="2.35"/>
<circle class="wm" cx="94.5" cy="392.5" r="2.35"/>
<circle class="wm" cx="103.5" cy="422.1" r="2.35"/>
<circle class="wm" cx="112.5" cy="412.1" r="2.35"/>
<circle class="wm" cx="121.5" cy="414.5" r="2.35"/>
<circle class="wm" cx="130.5" cy="401.3" r="2.35"/>
<circle class="wm" cx="139.5" cy="397.3" r="2.35"/>
<circle class="wm" cx="148.5" cy="382.5" r="2.35"/>
<circle class="wm" cx="157.5" cy="348.5" r="2.35"/>
<circle class="wm" cx="166.5" cy="352.1" r="2.35"/>
<circle class="wm" cx="175.5" cy="342.5" r="2.35"/>
<circle class="wm" cx="184.5" cy="310.5" r="2.35"/>
<circle class="wm" cx="193.5" cy="306.1" r="2.35"/>
<circle class="wm" cx="202.5" cy="301.3" r="2.35"/>
<circle class="wm" cx="211.5" cy="312.1" r="2.35"/>
<circle class="wm" cx="220.5" cy="315.3" r="2.35"/>
<circle class="wm" cx="229.5" cy="328.5" r="2.35"/>
<circle class="wm" cx="238.5" cy="365.3" r="2.35"/>
<circle class="wm" cx="247.5" cy="368.1" r="2.35"/>
<circle class="wm" cx="256.5" cy="388.5" r="2.35"/>
<circle class="wm" cx="265.5" cy="408.5" r="2.35"/>
<circle class="wm" cx="274.5" cy="415.3" r="2.35"/>
<circle class="wm" cx="283.5" cy="449.9" r="2.35"/>
<circle class="wm" cx="292.5" cy="448.5" r="2.35"/>
<circle class="wm" cx="301.5" cy="436.5" r="2.35"/>
<circle class="wm" cx="310.5" cy="427.3" r="2.35"/>
<circle class="wm" cx="319.5" cy="435.1" r="2.35"/>
<circle class="wm" cx="328.5" cy="449.3" r="2.35"/>
<circle class="wm" cx="337.5" cy="447.3" r="2.35"/>
<circle class="wm" cx="346.5" cy="436.5" r="2.35"/>
<circle class="wm" cx="355.5" cy="428.1" r="2.35"/>
<circle class="wm" cx="364.5" cy="424.1" r="2.35"/>
<circle class="wm" cx="373.5" cy="421.3" r="2.35"/>
<circle class="wm" cx="382.5" cy="413.1" r="2.35"/>
<circle class="wm" cx="391.5" cy="397.7" r="2.35"/>
<circle class="wm" cx="400.5" cy="359.5" r="2.35"/>
<circle class="wm" cx="409.5" cy="380.5" r="2.35"/>
<circle class="wm" cx="418.5" cy="394.1" r="2.35"/>
<circle class="wm" cx="427.5" cy="379.3" r="2.35"/>
<circle class="wm" cx="436.5" cy="370.5" r="2.35"/>
<circle class="wm" cx="445.5" cy="399.7" r="2.35"/>
<circle class="wm" cx="454.5" cy="423.3" r="2.35"/>
<circle class="wm" cx="463.5" cy="447.3" r="2.35"/>
<circle class="wm" cx="472.5" cy="466.1" r="2.35"/>
<circle class="wm" cx="481.5" cy="476.5" r="2.35"/>
<circle class="wm" cx="490.5" cy="461.3" r="2.35"/>
<circle class="wm" cx="499.5" cy="466.9" r="2.35"/>
<circle class="wm" cx="508.5" cy="470.1" r="2.35"/>
<circle class="wm" cx="517.5" cy="469.3" r="2.35"/>
<circle class="wm" cx="526.5" cy="470.1" r="2.35"/>
<circle class="wm" cx="535.5" cy="479.1" r="2.35"/>
<circle class="wm" cx="544.5" cy="487.3" r="2.35"/>
<circle class="wm" cx="553.5" cy="488.5" r="2.35"/>
<circle class="wm" cx="562.5" cy="482.9" r="2.35"/>
<circle class="wm" cx="571.5" cy="465.3" r="2.35"/>
<circle class="wm" cx="580.5" cy="447.3" r="2.35"/>
<circle class="wm" cx="589.5" cy="427.3" r="2.35"/>
<circle class="wm" cx="598.5" cy="403.5" r="2.35"/>
<circle class="wm" cx="607.5" cy="395.3" r="2.35"/>
<circle class="wm" cx="616.5" cy="384.1" r="2.35"/>
<circle class="wm" cx="625.5" cy="391.3" r="2.35"/>
<circle class="wm" cx="634.5" cy="351.3" r="2.35"/>
<circle class="wm" cx="643.5" cy="359.5" r="2.35"/>
<circle class="wm" cx="652.5" cy="371.3" r="2.35"/>
<circle class="wm" cx="661.5" cy="419.3" r="2.35"/>
<circle class="wm" cx="670.5" cy="421.3" r="2.35"/>
<circle class="wm" cx="679.5" cy="487.3" r="2.35"/>
<circle class="wm" cx="688.5" cy="479.1" r="2.35"/>
<circle class="wm" cx="706.5" cy="443.3" r="2.35"/>
<circle class="wm" cx="715.5" cy="468.1" r="2.35"/>
<circle class="wm" cx="724.5" cy="482.1" r="2.35"/>
<circle class="wm" cx="733.5" cy="481.3" r="2.35"/>
<circle class="wm" cx="742.5" cy="473.3" r="2.35"/>
<circle class="wm" cx="778.5" cy="490.1" r="2.35"/>
<circle class="wm" cx="787.5" cy="473.3" r="2.35"/>
<circle class="wm" cx="796.5" cy="463.3" r="2.35"/>
<circle class="wm" cx="805.5" cy="454.5" r="2.35"/>
<circle class="wm" cx="814.5" cy="435.1" r="2.35"/>
</g>
<g stroke="#0000ff">
<polyline class="ln" points="58.5,486.5 67.5,467.3 76.5,464.3 85.5,458.5 94.5,456.5 103.5,472.1 112.5,467.3 121.5,468.1 130.5,461.3 139.5,460.5 148.5,454.1 157.5,437.3 166.5,440.1 175.5,435.1 184.5,418.3 193.5,414.5 202.5,412.1 211.5,417.3 220.5,416.5 229.5,422.1 238.5,440.1 247.5,442.5 256.5,452.1 265.5,462.1 274.5,466.1 283.5,482.9 292.5,482.5 301.5,476.5 310.5,472.1 319.5,476.5 328.5,482.5 337.5,481.3 346.5,476.5 355.5,477.1 364.5,477.5 373.5,477.1 382.5,473.3 391.5,465.3 400.5,444.5 409.5,456.1 418.5,463.7 427.5,453.3 436.5,447.7 445.5,458.1 454.5,470.1 463.5,481.3 472.5,488.5 481.5,490.1 490.5,484.1 499.5,487.3 508.5,488.5 517.5,487.3 526.5,488.9 535.5,493.3 544.5,497.3 553.5,497.3 562.5,496.5 571.5,495.3 580.5,488.5 589.5,479.5 598.5,468.1 607.5,464.3 616.5,458.5 625.5,462.1 634.5,439.3 643.5,442.5 652.5,447.7 661.5,469.3 670.5,469.3 679.5,498.5 688.5,493.3 697.5,499.3 706.5,477.5 715.5,486.5 724.5,494.3 733.5,493.3 742.5,490.1 751.5,501.3 760.5,503.7 769.5,502.5 778.5,500.1 787.5,499.3 796.5,499.3 805.5,496.1 814.5,486.5"/>
<circle class="wm" cx="58.5" cy="486.5" r="2.35"/>
<circle class="wm" cx="67.5" cy="467.3" r="2.35"/>
<circle class="wm" cx="76.5" cy="464.3" r="2.35"/>
<circle class="wm" cx="85.5" cy="458.5" r="2.35"/>
<circle class="wm" cx="94.5" cy="456.5" r="2.35"/>
<circle class="wm" cx="103.5" cy="472.1" r="2.35"/>
<circle class="wm" cx="112.5" cy="467.3" r="2.35"/>
<circle class="wm" cx="121.5" cy="468.1" r="2.35"/>
<circle class="wm" cx="130.5" cy="461.3" r="2.35"/>
<circle class="wm" cx="139.5" cy="460.5" r="2.35"/>
<circle class="wm" cx="148.5" cy="454.1" r="2.35"/>
<circle class="wm" cx="157.5" cy="437.3" r="2.35"/>
<circle class="wm" cx="166.5" cy="440.1" r="2.35"/>
<circle class="wm" cx="175.5" cy="435.1" r="2.35"/>
<circle class="wm" cx="184.5" cy="418.3" r="2.35"/>
<circle class="wm" cx="193.5" cy="414.5" r="2.35"/>
<circle class="wm" cx="202.5" cy="412.1" r="2.35"/>
<circle class="wm" cx="211.5" cy="417.3" r="2.35"/>
<circle class="wm" cx="220.5" cy="416.5" r="2.35"/>
<circle class="wm" cx="229.5" cy="422.1" r="2.35"/>
<circle class="wm" cx="238.5" cy="440.1" r="2.35"/>
<circle class="wm" cx="247.5" cy="442.5" r="2.35"/>
<circle class="wm" cx="256.5" cy="452.1" r="2.35"/>
<circle class="wm" cx="265.5" cy="462.1" r="2.35"/>
<circle class="wm" cx="274.5" cy="466.1" r="2.35"/>
<circle class="wm" cx="283.5" cy="482.9" r="2.35"/>
<circle class="wm" cx="292.5" cy="482.5" r="2.35"/>
<circle class="wm" cx="301.5" cy="476.5" r="2.35"/>
<circle class="wm" cx="310.5" cy="472.1" r="2.35"/>
<circle class="wm" cx="319.5" cy="476.5" r="2.35"/>
<circle class="wm" cx="328.5" cy="482.5" r="2.35"/>
<circle class="wm" cx="337.5" cy="481.3" r="2.35"/>
<circle class="wm" cx="346.5" cy="476.5" r="2.35"/>
<circle class="wm" cx="355.5" cy="477.1" r="2.35"/>
<circle class="wm" cx="364.5" cy="477.5" r="2.35"/>
<circle class="wm" cx="373.5" cy="477.1" r="2.35"/>
<circle class="wm" cx="382.5" cy="473.3" r="2.35"/>
<circle class="wm" cx="391.5" cy="465.3" r="2.35"/>
<circle class="wm" cx="400.5" cy="444.5" r="2.35"/>
<circle class="wm" cx="409.5" cy="456.1" r="2.35"/>
<circle class="wm" cx="418.5" cy="463.7" r="2.35"/>
<circle class="wm" cx="427.5" cy="453.3" r="2.35"/>
<circle class="wm" cx="436.5" cy="447.7" r="2.35"/>
<circle class="wm" cx="445.5" cy="458.1" r="2.35"/>
<circle class="wm" cx="454.5" cy="470.1" r="2.35"/>
<circle class="wm" cx="463.5" cy="481.3" r="2.35"/>
<circle class="wm" cx="472.5" cy="488.5" r="2.35"/>
<circle class="wm" cx="481.5" cy="490.1" r="2.35"/>
<circle class="wm" cx="490.5" cy="484.1" r="2.35"/>
<circle class="wm" cx="499.5" cy="487.3" r="2.35"/>
<circle class="wm" cx="508.5" cy="488.5" r="2.35"/>
<circle class="wm" cx="517.5" cy="487.3" r="2.35"/>
<circle class="wm" cx="526.5" cy="488.9" r="2.35"/>
<circle class="wm" cx="535.5" cy="493.3" r="2.35"/>
<circle class="wm" cx="544.5" cy="497.3" r="2.35"/>
<circle class="wm" cx="553.5" cy="497.3" r="2.35"/>
<circle class="wm" cx="562.5" cy="496.5" r="2.35"/>
<circle class="wm" cx="571.5" cy="495.3" r="2.35"/>
<circle class="wm" cx="580.5" cy="488.5" r="2.35"/>
<circle class="wm" cx="589.5" cy="479.5" r="2.35"/>
<circle class="wm" cx="598.5" cy="468.1" r="2.35"/>
<circle class="wm" cx="607.5" cy="464.3" r="2.35"/>
<circle class="wm" cx="616.5" cy="458.5" r="2.35"/>
<circle class="wm" cx="625.5" cy="462.1" r="2.35"/>
<circle class="wm" cx="634.5" cy="439.3" r="2.35"/>
<circle class="wm" cx="643.5" cy="442.5" r="2.35"/>
<circle class="wm" cx="652.5" cy="447.7" r="2.35"/>
<circle class="wm" cx="661.5" cy="469.3" r="2.35"/>
<circle class="wm" cx="670.5" cy="469.3" r="2.35"/>
<circle class="wm" cx="679.5" cy="498.5" r="2.35"/>
<circle class="wm" cx="688.5" cy="493.3" r="2.35"/>
<circle class="wm" cx="697.5" cy="499.3" r="2.35"/>
<circle class="wm" cx="706.5" cy="477.5" r="2.35"/>
<circle class="wm" cx="715.5" cy="486.5" r="2.35"/>
<circle class="wm" cx="724.5" cy="494.3" r="2.35"/>
<circle class="wm" cx="733.5" cy="493.3" r="2.35"/>
<circle class="wm" cx="742.5" cy="490.1" r="2.35"/>
<circle class="wm" cx="751.5" cy="501.3" r="2.35"/>
<circle class="wm" cx="760.5" cy="503.7" r="2.35"/>
<circle class="wm" cx="769.5" cy="502.5" r="2.35"/>
<circle class="wm" cx="778.5" cy="500.1" r="2.35"/>
<circle class="wm" cx="787.5" cy="499.3" r="2.35"/>
<circle class="wm" cx="796.5" cy="499.3" r="2.35"/>
<circle class="wm" cx="805.5" cy="496.1" r="2.35"/>
<circle class="wm" cx="814.5" cy="486.5" r="2.35"/>
</g>
<path class="ar" d="M58 290.5 L69.07 288.25 M69.07 288.25 L64.94 292.17 M69.07 288.25 L63.73 286.25 M67 290.5 L78.29 290.99 M78.29 290.99 L73.33 293.8 M78.29 290.99 L73.59 287.76 M76 290.5 L87.3 290.5 M87.3 290.5 L82.47 293.52 M87.3 290.5 L82.47 287.48 M85 290.5 L96.2 291.99 M96.2 291.99 L91.01 294.35 M96.2 291.99 L91.81 288.36 M94 290.5 L105.28 291.09 M105.28 291.09 L100.3 293.85 M105.28 291.09 L100.62 287.82 M103 290.5 L114.2 291.99 M114.2 291.99 L109.01 294.35 M114.2 291.99 L109.81 288.36 M112 290.5 L123.2 291.99 M123.2 291.99 L118.01 294.35 M123.2 291.99 L118.81 288.36 M121 290.5 L132.3 290.76 M132.3 290.76 L127.4 293.67 M132.3 290.76 L127.53 287.63 M130 290.5 L141.3 290.5 M141.3 290.5 L136.47 293.52 M141.3 290.5 L136.47 287.48 M139 290.5 L150.3 290.76 M150.3 290.76 L145.4 293.67 M150.3 290.76 L145.53 287.63 M148 290.5 L159.29 290.11 M159.29 290.11 L154.57 293.29 M159.29 290.11 L154.36 287.26 M157 290.5 L168.27 291.39 M168.27 291.39 L163.21 294.02 M168.27 291.39 L163.68 288 M166 290.5 L177.2 291.99 M177.2 291.99 L172.01 294.35 M177.2 291.99 L172.81 288.36 M175 290.5 L186.2 291.99 M186.2 291.99 L181.01 294.35 M186.2 291.99 L181.81 288.36 M184 290.5 L195.24 291.68 M195.24 291.68 L190.11 294.18 M195.24 291.68 L190.75 288.17 M193 290.5 L203.57 294.49 M203.57 294.49 L197.98 295.61 M203.57 294.49 L200.12 289.96 M202 290.5 L211.69 296.32 M211.69 296.32 L205.99 296.42 M211.69 296.32 L209.1 291.24 M211 290.5 L221.32 295.1 M221.32 295.1 L215.68 295.89 M221.32 295.1 L218.14 290.37 M220 290.5 L230.57 294.49 M230.57 294.49 L224.98 295.61 M230.57 294.49 L227.12 289.96 M229 290.5 L239.57 294.49 M239.57 294.49 L233.98 295.61 M239.57 294.49 L236.12 289.96 M238 290.5 L248.4 294.92 M248.4 294.92 L242.77 295.81 M248.4 294.92 L245.13 290.25 M247 290.5 L257.4 294.92 M257.4 294.92 L251.77 295.81 M257.4 294.92 L254.13 290.25 M256 290.5 L266.57 294.49 M266.57 294.49 L260.98 295.61 M266.57 294.49 L263.12 289.96 M265 290.5 L275.68 294.18 M275.68 294.18 L270.13 295.46 M275.68 294.18 L272.1 289.75 M274 290.5 L284.68 294.18 M284.68 294.18 L279.13 295.46 M284.68 294.18 L281.1 289.75 M283 290.5 L294.24 291.68 M294.24 291.68 L289.11 294.18 M294.24 291.68 L289.75 288.17 M292 290.5 L303.24 291.68 M303.24 291.68 L298.11 294.18 M303.24 291.68 L298.75 288.17 M301 290.5 L312.02 293 M312.02 293 L306.64 294.88 M312.02 293 L307.97 288.99 M310 290.5 L321.24 291.68 M321.24 291.68 L316.11 294.18 M321.24 291.68 L316.75 288.17 M319 290.5 L330.24 291.68 M330.24 291.68 L325.11 294.18 M330.24 291.68 L325.75 288.17 M328 290.5 L339.3 290.76 M339.3 290.76 L334.4 293.67 M339.3 290.76 L334.53 287.63 M337 290.5 L348.29 290.11 M348.29 290.11 L343.57 293.29 M348.29 290.11 L343.36 287.26 M346 290.5 L357.3 290.7 M357.3 290.7 L352.41 293.63 M357.3 290.7 L352.52 287.59 M355 290.5 L366.3 290.7 M366.3 290.7 L361.41 293.63 M366.3 290.7 L361.52 287.59 M364 290.5 L375.3 290.7 M375.3 290.7 L370.41 293.63 M375.3 290.7 L370.52 287.59 M373 290.5 L384.29 290.99 M384.29 290.99 L379.33 293.8 M384.29 290.99 L379.59 287.76 M382 290.5 L393.29 290.99 M393.29 290.99 L388.33 293.8 M393.29 290.99 L388.59 287.76 M391 290.5 L402.28 291.09 M402.28 291.09 L397.3 293.85 M402.28 291.09 L397.62 287.82 M400 290.5 L411.16 292.27 M411.16 292.27 L405.91 294.49 M411.16 292.27 L406.86 288.53 M409 290.5 L420.1 292.62 M420.1 292.62 L414.79 294.68 M420.1 292.62 L415.92 288.74 M418 290.5 L429.1 292.62 M429.1 292.62 L423.79 294.68 M429.1 292.62 L424.92 288.74 M427 290.5 L438.29 290.11 M438.29 290.11 L433.57 293.29 M438.29 290.11 L433.36 287.26 M436 290.5 L447.2 291.99 M447.2 291.99 L442.01 294.35 M447.2 291.99 L442.81 288.36 M445 290.5 L456.16 292.27 M456.16 292.27 L450.91 294.49 M456.16 292.27 L451.86 288.53 M454 290.5 L465.3 290.76 M465.3 290.76 L460.4 293.67 M465.3 290.76 L460.53 287.63 M463 290.5 L474.29 290.99 M474.29 290.99 L469.33 293.8 M474.29 290.99 L469.59 287.76 M472 290.5 L482.78 293.9 M482.78 293.9 L477.26 295.33 M482.78 293.9 L479.08 289.56 M481 290.5 L492.16 292.27 M492.16 292.27 L486.91 294.49 M492.16 292.27 L487.86 288.53 M490 290.5 L501.24 291.68 M501.24 291.68 L496.11 294.18 M501.24 291.68 L496.75 288.17 M499 290.5 L509.78 293.9 M509.78 293.9 L504.26 295.33 M509.78 293.9 L506.08 289.56 M508 290.5 L518.78 293.9 M518.78 293.9 L513.26 295.33 M518.78 293.9 L515.08 289.56 M517 290.5 L527.78 293.9 M527.78 293.9 L522.26 295.33 M527.78 293.9 L524.08 289.56 M526 290.5 L536.78 293.9 M536.78 293.9 L531.26 295.33 M536.78 293.9 L533.08 289.56 M535 290.5 L545.48 294.73 M545.48 294.73 L539.86 295.72 M545.48 294.73 L542.13 290.12 M544 290.5 L553.88 295.98 M553.88 295.98 L548.19 296.28 M553.88 295.98 L551.12 290.99 M553 290.5 L564.1 292.62 M564.1 292.62 L558.79 294.68 M564.1 292.62 L559.92 288.74 M562 290.5 L573.02 293 M573.02 293 L567.64 294.88 M573.02 293 L568.97 288.99 M571 290.5 L581.78 293.9 M581.78 293.9 L576.26 295.33 M581.78 293.9 L578.08 289.56 M580 290.5 L590.78 293.9 M590.78 293.9 L585.26 295.33 M590.78 293.9 L587.08 289.56 M589 290.5 L599.89 293.52 M599.89 293.52 L594.42 295.14 M599.89 293.52 L596.04 289.32 M598 290.5 L608.89 293.5 M608.89 293.5 L603.43 295.13 M608.89 293.5 L605.04 289.31 M607 290.5 L617.89 293.5 M617.89 293.5 L612.43 295.13 M617.89 293.5 L614.04 289.31 M616 290.5 L627.1 292.62 M627.1 292.62 L621.79 294.68 M627.1 292.62 L622.92 288.74 M625 290.5 L635.78 293.9 M635.78 293.9 L630.26 295.33 M635.78 293.9 L632.08 289.56 M634 290.5 L645.24 291.68 M645.24 291.68 L640.11 294.18 M645.24 291.68 L640.75 288.17 M643 290.5 L654.27 291.39 M654.27 291.39 L649.21 294.02 M654.27 291.39 L649.68 288 M652 290.5 L663.29 290.99 M663.29 290.99 L658.33 293.8 M663.29 290.99 L658.59 287.76 M661 290.5 L672.3 290.76 M672.3 290.76 L667.4 293.67 M672.3 290.76 L667.53 287.63 M670 290.5 L681.23 289.24 M681.23 289.24 L676.76 292.78 M681.23 289.24 L676.09 286.78 M679 290.5 L690.02 293 M690.02 293 L684.64 294.88 M690.02 293 L685.97 288.99 M688 290.5 L698.57 294.49 M698.57 294.49 L692.98 295.61 M698.57 294.49 L695.12 289.96 M697 290.5 L707.57 294.49 M707.57 294.49 L701.98 295.61 M707.57 294.49 L704.12 289.96 M706 290.5 L710.78 300.74 M710.78 300.74 L706 297.64 M710.78 300.74 L711.47 295.08 M715 290.5 L719.12 301.02 M719.12 301.02 L714.55 297.62 M719.12 301.02 L720.17 295.42 M724 290.5 L728.78 300.74 M728.78 300.74 L724 297.64 M728.78 300.74 L729.47 295.08 M733 290.5 L738.31 300.48 M738.31 300.48 L733.37 297.63 M738.31 300.48 L738.7 294.79 M742 290.5 L748.07 300.03 M748.07 300.03 L742.93 297.58 M748.07 300.03 L748.02 294.33 M751 290.5 L758.11 299.28 M758.11 299.28 L752.72 297.43 M758.11 299.28 L757.42 293.62 M760 290.5 L770.57 294.49 M770.57 294.49 L764.98 295.61 M770.57 294.49 L767.12 289.96 M769 290.5 L779.62 294.36 M779.62 294.36 L774.04 295.55 M779.62 294.36 L776.11 289.87 M778 290.5 L788.62 294.36 M788.62 294.36 L783.04 295.55 M788.62 294.36 L785.11 289.87 M787 290.5 L797.62 294.36 M797.62 294.36 L792.04 295.55 M797.62 294.36 L794.11 289.87 M796 290.5 L806.75 293.99 M806.75 293.99 L801.22 295.37 M806.75 293.99 L803.08 289.63 M805 290.5 L816.29 290.99 M816.29 290.99 L811.33 293.8 M816.29 290.99 L811.59 287.76 M814 290.5 L825.17 288.81 M825.17 288.81 L820.85 292.52 M825.17 288.81 L819.94 286.55"/>
<g>
<path class="ax" d="M50.5 30 V271 M822.5 30 V271 M50 270.5 H823 M48 30.5 H53 M820 30.5 H825 M48 54.5 H53 M820 54.5 H825 M48 78.5 H53 M820 78.5 H825 M48 102.5 H53 M820 102.5 H825 M48 126.5 H53 M820 126.5 H825 M48 150.5 H53 M820 150.5 H825 M48 174.5 H53 M820 174.5 H825 M48 198.5 H53 M820 198.5 H825 M48 222.5 H53 M820 222.5 H825 M48 246.5 H53 M820 246.5 H825 M48 270.5 H53 M820 270.5 H825 M58.5 268 V273 M67.5 268 V273 M76.5 268 V273 M85.5 268 V273 M94.5 268 V273 M103.5 268 V273 M112.5 268 V273 M121.5 268 V273 M130.5 268 V273 M139.5 268 V273 M148.5 268 V273 M157.5 268 V273 M166.5 268 V273 M175.5 268 V273 M184.5 268 V273 M193.5 268 V273 M202.5 268 V273 M211.5 268 V273 M220.5 268 V273 M229.5 268 V273 M238.5 268 V273 M247.5 268 V273 M256.5 268 V273 M265.5 268 V273 M274.5 268 V273 M283.5 268 V273 M292.5 268 V273 M301.5 268 V273 M310.5 268 V273 M319.5 268 V273 M328.5 268 V273 M337.5 268 V273 M346.5 268 V273 M355.5 268 V273 M364.5 268 V273 M373.5 268 V273 M382.5 268 V273 M391.5 268 V273 M400.5 268 V273 M409.5 268 V273 M418.5 268 V273 M427.5 268 V273 M436.5 268 V273 M445.5 268 V273 M454.5 268 V273 M463.5 268 V273 M472.5 268 V273 M481.5 268 V273 M490.5 268 V273 M499.5 268 V273 M508.5 268 V273 M517.5 268 V273 M526.5 268 V273 M535.5 268 V273 M544.5 268 V273 M553.5 268 V273 M562.5 268 V273 M571.5 268 V273 M580.5 268 V273 M589.5 268 V273 M598.5 268 V273 M607.5 268 V273 M616.5 268 V273 M625.5 268 V273 M634.5 268 V273 M643.5 268 V273 M652.5 268 V273 M661.5 268 V273 M670.5 268 V273 M679.5 268 V273 M688.5 268 V273 M697.5 268 V273 M706.5 268 V273 M715.5 268 V273 M724.5 268 V273 M733.5 268 V273 M742.5 268 V273 M751.5 268 V273 M760.5 268 V273 M769.5 268 V273 M778.5 268 V273 M787.5 268 V273 M796.5 268 V273 M805.5 268 V273 M814.5 268 V273"/>
<text transform="translate(45.5 35) scale(.92 1)" text-anchor="end">80</text>
<text transform="translate(825.6 35) scale(.92 1)">100</text>
<text transform="translate(45.5 59) scale(.92 1)" text-anchor="end">70</text>
<text transform="translate(825.6 59) scale(.92 1)">90</text>
<text transform="translate(45.5 83) scale(.92 1)" text-anchor="end">60</text>
<text transform="translate(825.6 83) scale(.92 1)">80</text>
<text transform="translate(45.5 107) scale(.92 1)" text-anchor="end">50</text>
<text transform="translate(825.6 107) scale(.92 1)">70</text>
<text transform="translate(45.5 131) scale(.92 1)" text-anchor="end">40</text>
<text transform="translate(825.6 131) scale(.92 1)">60</text>
<text transform="translate(45.5 155) scale(.92 1)" text-anchor="end">30</text>
<text transform="translate(825.6 155) scale(.92 1)">50</text>
<text transform="translate(45.5 179) scale(.92 1)" text-anchor="end">20</text>
<text transform="translate(825.6 179) scale(.92 1)">40</text>
<text transform="translate(45.5 203) scale(.92 1)" text-anchor="end">10</text>
<text transform="translate(825.6 203) scale(.92 1)">30</text>
<text transform="translate(45.5 227) scale(.92 1)" text-anchor="end">0</text>
<text transform="translate(825.6 227) scale(.92 1)">20</text>
<text transform="translate(45.5 251) scale(.92 1)" text-anchor="end">-10</text>
<text transform="translate(825.6 251) scale(.92 1)">10</text>
<text transform="translate(45.5 275) scale(.92 1)" text-anchor="end">-20</text>
<text transform="translate(825.6 275) scale(.92 1)">0</text>
<text class="at" transform="translate(25 150) rotate(-90)" text-anchor="middle">Temperature (F)</text>
<text transform="translate(852.5 150) rotate(90)" text-anchor="middle">Relative Humidity (%)</text>
</g>
<g>
<path class="ax" d="M50.5 290 V531 M822.5 290 V531 M50 530.5 H823 M48 290.5 H53 M820 290.5 H825 M48 330.5 H53 M820 330.5 H825 M48 370.5 H53 M820 370.5 H825 M48 410.5 H53 M820 410.5 H825 M48 450.5 H53 M820 450.5 H825 M48 490.5 H53 M820 490.5 H825 M48 530.5 H53 M820 530.5 H825 M58.5 528 V533 M67.5 528 V533 M76.5 528 V533 M85.5 528 V533 M94.5 528 V533 M103.5 528 V533 M112.5 528 V533 M121.5 528 V533 M130.5 528 V533 M139.5 528 V533 M148.5 528 V533 M157.5 528 V533 M166.5 528 V533 M175.5 528 V533 M184.5 528 V533 M193.5 528 V533 M202.5 528 V533 M211.5 528 V533 M220.5 528 V533 M229.5 528 V533 M238.5 528 V533 M247.5 528 V533 M256.5 528 V533 M265.5 528 V533 M274.5 528 V533 M283.5 528 V533 M292.5 528 V533 M301.5 528 V533 M310.5 528 V533 M319.5 528 V533 M328.5 528 V533 M337.5 528 V533 M346.5 528 V533 M355.5 528 V533 M364.5 528 V533 M373.5 528 V533 M382.5 528 V533 M391.5 528 V533 M400.5 528 V533 M409.5 528 V533 M418.5 528 V533 M427.5 528 V533 M436.5 528 V533 M445.5 528 V533 M454.5 528 V533 M463.5 528 V533 M472.5 528 V533 M481.5 528 V533 M490.5 528 V533 M499.5 528 V533 M508.5 528 V533 M517.5 528 V533 M526.5 528 V533 M535.5 528 V533 M544.5 528 V533 M553.5 528 V533 M562.5 528 V533 M571.5 528 V533 M580.5 528 V533 M589.5 528 V533 M598.5 528 V533 M607.5 528 V533 M616.5 528 V533 M625.5 528 V533 M634.5 528 V533 M643.5 528 V533 M652.5 528 V533 M661.5 528 V533 M670.5 528 V533 M679.5 528 V533 M688.5 528 V533 M697.5 528 V533 M706.5 528 V533 M715.5 528 V533 M724.5 528 V533 M733.5 528 V533 M742.5 528 V533 M751.5 528 V533 M760.5 528 V533 M769.5 528 V533 M778.5 528 V533 M787.5 528 V533 M796.5 528 V533 M805.5 528 V533 M814.5 528 V533"/>
<text transform="translate(45.5 295) scale(.92 1)" text-anchor="end">60</text>
<text transform="translate(825.6 295) scale(.92 1)">60</text>
<text transform="translate(45.5 335) scale(.92 1)" text-anchor="end">50</text>
<text transform="translate(825.6 335) scale(.92 1)">50</text>
<text transform="translate(45.5 375) scale(.92 1)" text-anchor="end">40</text>
<text transform="translate(825.6 375) scale(.92 1)">40</text>
<text transform="translate(45.5 415) scale(.92 1)" text-anchor="end">30</text>
<text transform="translate(825.6 415) scale(.92 1)">30</text>
<text transform="translate(45.5 455) scale(.92 1)" text-anchor="end">20</text>
<text transform="translate(825.6 455) scale(.92 1)">20</text>
<text transform="translate(45.5 495) scale(.92 1)" text-anchor="end">10</text>
<text transform="translate(825.6 495) scale(.92 1)">10</text>
<text transform="translate(45.5 535) scale(.92 1)" text-anchor="end">0</text>
<text transform="translate(825.6 535) scale(.92 1)">0</text>
<text class="at" transform="translate(29 410) rotate(-90)" text-anchor="middle">Wind Speed (mph)</text>
<text class="at" transform="translate(846.2 410) rotate(90)" text-anchor="middle">Wind Speed (mph)</text>
</g>
<g>
<path class="ax" d="M50.5 550 V791 M822.5 550 V791 M50 790.5 H823 M48 550.5 H53 M820 550.5 H825 M48 598.5 H53 M820 598.5 H825 M48 646.5 H53 M820 646.5 H825 M48 694.5 H53 M820 694.5 H825 M48 742.5 H53 M820 742.5 H825 M48 790.5 H53 M820 790.5 H825 M58.5 788 V793 M67.5 788 V793 M76.5 788 V793 M85.5 788 V793 M94.5 788 V793 M103.5 788 V793 M112.5 788 V793 M121.5 788 V793 M130.5 788 V793 M139.5 788 V793 M148.5 788 V793 M157.5 788 V793 M166.5 788 V793 M175.5 788 V793 M184.5 788 V793 M193.5 788 V793 M202.5 788 V793 M211.5 788 V793 M220.5 788 V793 M229.5 788 V793 M238.5 788 V793 M247.5 788 V793 M256.5 788 V793 M265.5 788 V793 M274.5 788 V793 M283.5 788 V793 M292.5 788 V793 M301.5 788 V793 M310.5 788 V793 M319.5 788 V793 M328.5 788 V793 M337.5 788 V793 M346.5 788 V793 M355.5 788 V793 M364.5 788 V793 M373.5 788 V793 M382.5 788 V793 M391.5 788 V793 M400.5 788 V793 M409.5 788 V793 M418.5 788 V793 M427.5 788 V793 M436.5 788 V793 M445.5 788 V793 M454.5 788 V793 M463.5 788 V793 M472.5 788 V793 M481.5 788 V793 M490.5 788 V793 M499.5 788 V793 M508.5 788 V793 M517.5 788 V793 M526.5 788 V793 M535.5 788 V793 M544.5 788 V793 M553.5 788 V793 M562.5 788 V793 M571.5 788 V793 M580.5 788 V793 M589.5 788 V793 M598.5 788 V793 M607.5 788 V793 M616.5 788 V793 M625.5 788 V793 M634.5 788 V793 M643.5 788 V793 M652.5 788 V793 M661.5 788 V793 M670.5 788 V793 M679.5 788 V793 M688.5 788 V793 M697.5 788 V793 M706.5 788 V793 M715.5 788 V793 M724.5 788 V793 M733.5 788 V793 M742.5 788 V793 M751.5 788 V793 M760.5 788 V793 M769.5 788 V793 M778.5 788 V793 M787.5 788 V793 M796.5 788 V793 M805.5 788 V793 M814.5 788 V793"/>
<text transform="translate(45.5 555) scale(.92 1)" text-anchor="end">5</text>
<text transform="translate(825.6 555) scale(.92 1)">5</text>
<text transform="translate(45.5 603) scale(.92 1)" text-anchor="end">4</text>
<text transform="translate(825.6 603) scale(.92 1)">4</text>
<text transform="translate(45.5 651) scale(.92 1)" text-anchor="end">3</text>
<text transform="translate(825.6 651) scale(.92 1)">3</text>
<text transform="translate(45.5 699) scale(.92 1)" text-anchor="end">2</text>
<text transform="translate(825.6 699) scale(.92 1)">2</text>
<text transform="translate(45.5 747) scale(.92 1)" text-anchor="end">1</text>
<text transform="translate(825.6 747) scale(.92 1)">1</text>
<text transform="translate(45.5 795) scale(.92 1)" text-anchor="end">0</text>
<text transform="translate(825.6 795) scale(.92 1)">0</text>
<text transform="translate(36 670) rotate(-90)" text-anchor="middle">1-hour precip (0.01 in)</text>
<text transform="translate(840 694) rotate(90)" text-anchor="middle">Accumulated Precip (0.01 in)</text>
</g>
<g>
<path class="ax" d="M50.5 810 V1051 M822.5 810 V1051 M50 1050.5 H823 M48 810.5 H53 M820 810.5 H825 M48 858.5 H53 M820 858.5 H825 M48 906.5 H53 M820 906.5 H825 M48 954.5 H53 M820 954.5 H825 M48 1002.5 H53 M820 1002.5 H825 M48 1050.5 H53 M820 1050.5 H825 M58.5 1048 V1053 M67.5 1048 V1053 M76.5 1048 V1053 M85.5 1048 V1053 M94.5 1048 V1053 M103.5 1048 V1053 M112.5 1048 V1053 M121.5 1048 V1053 M130.5 1048 V1053 M139.5 1048 V1053 M148.5 1048 V1053 M157.5 1048 V1053 M166.5 1048 V1053 M175.5 1048 V1053 M184.5 1048 V1053 M193.5 1048 V1053 M202.5 1048 V1053 M211.5 1048 V1053 M220.5 1048 V1053 M229.5 1048 V1053 M238.5 1048 V1053 M247.5 1048 V1053 M256.5 1048 V1053 M265.5 1048 V1053 M274.5 1048 V1053 M283.5 1048 V1053 M292.5 1048 V1053 M301.5 1048 V1053 M310.5 1048 V1053 M319.5 1048 V1053 M328.5 1048 V1053 M337.5 1048 V1053 M346.5 1048 V1053 M355.5 1048 V1053 M364.5 1048 V1053 M373.5 1048 V1053 M382.5 1048 V1053 M391.5 1048 V1053 M400.5 1048 V1053 M409.5 1048 V1053 M418.5 1048 V1053 M427.5 1048 V1053 M436.5 1048 V1053 M445.5 1048 V1053 M454.5 1048 V1053 M463.5 1048 V1053 M472.5 1048 V1053 M481.5 1048 V1053 M490.5 1048 V1053 M499.5 1048 V1053 M508.5 1048 V1053 M517.5 1048 V1053 M526.5 1048 V1053 M535.5 1048 V1053 M544.5 1048 V1053 M553.5 1048 V1053 M562.5 1048 V1053 M571.5 1048 V1053 M580.5 1048 V1053 M589.5 1048 V1053 M598.5 1048 V1053 M607.5 1048 V1053 M616.5 1048 V1053 M625.5 1048 V1053 M634.5 1048 V1053 M643.5 1048 V1053 M652.5 1048 V1053 M661.5 1048 V1053 M670.5 1048 V1053 M679.5 1048 V1053 M688.5 1048 V1053 M697.5 1048 V1053 M706.5 1048 V1053 M715.5 1048 V1053 M724.5 1048 V1053 M733.5 1048 V1053 M742.5 1048 V1053 M751.5 1048 V1053 M760.5 1048 V1053 M769.5 1048 V1053 M778.5 1048 V1053 M787.5 1048 V1053 M796.5 1048 V1053 M805.5 1048 V1053 M814.5 1048 V1053"/>
<text transform="translate(45.5 815) scale(.92 1)" text-anchor="end">0.5</text>
<text transform="translate(825.6 815) scale(.92 1)">0.5</text>
<text transform="translate(45.5 863) scale(.92 1)" text-anchor="end">0.4</text>
<text transform="translate(825.6 863) scale(.92 1)">0.4</text>
<text transform="translate(45.5 911) scale(.92 1)" text-anchor="end">0.3</text>
<text transform="translate(825.6 911) scale(.92 1)">0.3</text>
<text transform="translate(45.5 959) scale(.92 1)" text-anchor="end">0.2</text>
<text transform="translate(825.6 959) scale(.92 1)">0.2</text>
<text transform="translate(45.5 1007) scale(.92 1)" text-anchor="end">0.1</text>
<text transform="translate(825.6 1007) scale(.92 1)">0.1</text>
<text transform="translate(45.5 1055) scale(.92 1)" text-anchor="end">0</text>
<text transform="translate(825.6 1055) scale(.92 1)">0</text>
<text transform="translate(25 930) rotate(-90)" text-anchor="middle">1-hour snow (in)</text>
<text transform="translate(851 930) rotate(90)" text-anchor="middle">Accumulated snow (in)</text>
</g>
<g>
<rect x="847.5" y="22.5" width="53" height="62" rx="4" ry="4" fill="#e0ffff" stroke="#fff" stroke-width="1"/>
<rect x="851.8" y="30.8" width="6" height="6" fill="#9aa3a3"/>
<rect x="851" y="30" width="6" height="6" fill="#ff0000"/>
<text x="860" y="35.65">Temp</text>
<rect x="851.8" y="44.95" width="6" height="6" fill="#9aa3a3"/>
<rect x="851" y="44.15" width="6" height="6" fill="#0000ff"/>
<text x="860" y="50.65">DewPt</text>
<rect x="851.8" y="59.1" width="6" height="6" fill="#9aa3a3"/>
<rect x="851" y="58.3" width="6" height="6" fill="#00cccc"/>
<text x="860" y="64.8">WetB</text>
<rect x="851.8" y="73.25" width="6" height="6" fill="#9aa3a3"/>
<rect x="851" y="72.45" width="6" height="6" fill="#009900"/>
<text x="860" y="78.95">RH</text>
</g>
<g>
<rect x="847.5" y="292.5" width="51" height="36" rx="4" ry="4" fill="#e0ffff" stroke="#fff" stroke-width="1"/>
<rect x="851.8" y="301.8" width="6" height="6" fill="#9aa3a3"/>
<rect x="851" y="301" width="6" height="6" fill="#0000ff"/>
<text x="860" y="306.65">Speed</text>
<rect x="851.8" y="315.8" width="6" height="6" fill="#9aa3a3"/>
<rect x="851" y="315" width="6" height="6" fill="#ff0000"/>
<text x="860" y="321.5">Gust</text>
</g>
<g>
<rect x="847.5" y="541.5" width="84" height="64" rx="4" ry="4" fill="#e0ffff" stroke="#fff" stroke-width="1"/>
<rect x="851.8" y="550.9" width="6" height="6" fill="#9aa3a3"/>
<rect x="851" y="550.1" width="6" height="6" fill="#0000ff"/>
<text x="859.5" y="555.75">1-h non pcp</text>
<rect x="851.8" y="564.83" width="6" height="6" fill="#9aa3a3"/>
<rect x="851" y="564.03" width="6" height="6" fill="#ff0000"/>
<text x="859.5" y="569.68">1-h con pcp</text>
<rect x="851.8" y="578.76" width="6" height="6" fill="#9aa3a3"/>
<rect x="851" y="577.96" width="6" height="6" fill="#009900"/>
<text x="860" y="583.61">NonCon pcp</text>
<rect x="851.8" y="592.69" width="6" height="6" fill="#9aa3a3"/>
<rect x="851" y="591.89" width="6" height="6" fill="#000000"/>
<text x="860" y="597.54">Total pcp</text>
</g>
<g>
<rect x="847.5" y="801.5" width="69" height="36" rx="4" ry="4" fill="#e0ffff" stroke="#fff" stroke-width="1"/>
<rect x="851.8" y="810.9" width="6" height="6" fill="#9aa3a3"/>
<rect x="851" y="810.1" width="6" height="6" fill="#0000ff"/>
<text x="859.5" y="816.6">1-h snow</text>
<rect x="851.8" y="824.9" width="6" height="6" fill="#9aa3a3"/>
<rect x="851" y="824.1" width="6" height="6" fill="#000000"/>
<text x="860" y="830.6">Acc snow</text>
</g>
<text class="b" transform="translate(63.5 1056.5) rotate(-90)" text-anchor="end">Mar-17 00</text>
<text transform="translate(90.5 1056.5) rotate(-90)" text-anchor="end">03</text>
<text transform="translate(117.5 1056.5) rotate(-90)" text-anchor="end">06</text>
<text transform="translate(144.5 1056.5) rotate(-90)" text-anchor="end">09</text>
<text transform="translate(171.5 1056.5) rotate(-90)" text-anchor="end">12</text>
<text transform="translate(198.5 1056.5) rotate(-90)" text-anchor="end">15</text>
<text transform="translate(225.5 1056.5) rotate(-90)" text-anchor="end">18</text>
<text transform="translate(252.5 1056.5) rotate(-90)" text-anchor="end">21</text>
<text class="b" transform="translate(279.5 1056.5) rotate(-90)" text-anchor="end">Mar-18 00</text>
<text transform="translate(306.5 1056.5) rotate(-90)" text-anchor="end">03</text>
<text transform="translate(333.5 1056.5) rotate(-90)" text-anchor="end">06</text>
<text transform="translate(360.5 1056.5) rotate(-90)" text-anchor="end">09</text>
<text transform="translate(387.5 1056.5) rotate(-90)" text-anchor="end">12</text>
<text transform="translate(414.5 1056.5) rotate(-90)" text-anchor="end">15</text>
<text transform="translate(441.5 1056.5) rotate(-90)" text-anchor="end">18</text>
<text transform="translate(468.5 1056.5) rotate(-90)" text-anchor="end">21</text>
<text class="b" transform="translate(495.5 1056.5) rotate(-90)" text-anchor="end">Mar-19 00</text>
<text transform="translate(522.5 1056.5) rotate(-90)" text-anchor="end">03</text>
<text transform="translate(549.5 1056.5) rotate(-90)" text-anchor="end">06</text>
<text transform="translate(576.5 1056.5) rotate(-90)" text-anchor="end">09</text>
<text transform="translate(603.5 1056.5) rotate(-90)" text-anchor="end">12</text>
<text transform="translate(630.5 1056.5) rotate(-90)" text-anchor="end">15</text>
<text transform="translate(657.5 1056.5) rotate(-90)" text-anchor="end">18</text>
<text transform="translate(684.5 1056.5) rotate(-90)" text-anchor="end">21</text>
<text class="b" transform="translate(711.5 1056.5) rotate(-90)" text-anchor="end">Mar-20 00</text>
<text transform="translate(738.5 1056.5) rotate(-90)" text-anchor="end">03</text>
<text transform="translate(765.5 1056.5) rotate(-90)" text-anchor="end">06</text>
<text transform="translate(792.5 1056.5) rotate(-90)" text-anchor="end">09</text>
<text transform="translate(819.5 1056.5) rotate(-90)" text-anchor="end">12</text>
</svg>
</body></html>
